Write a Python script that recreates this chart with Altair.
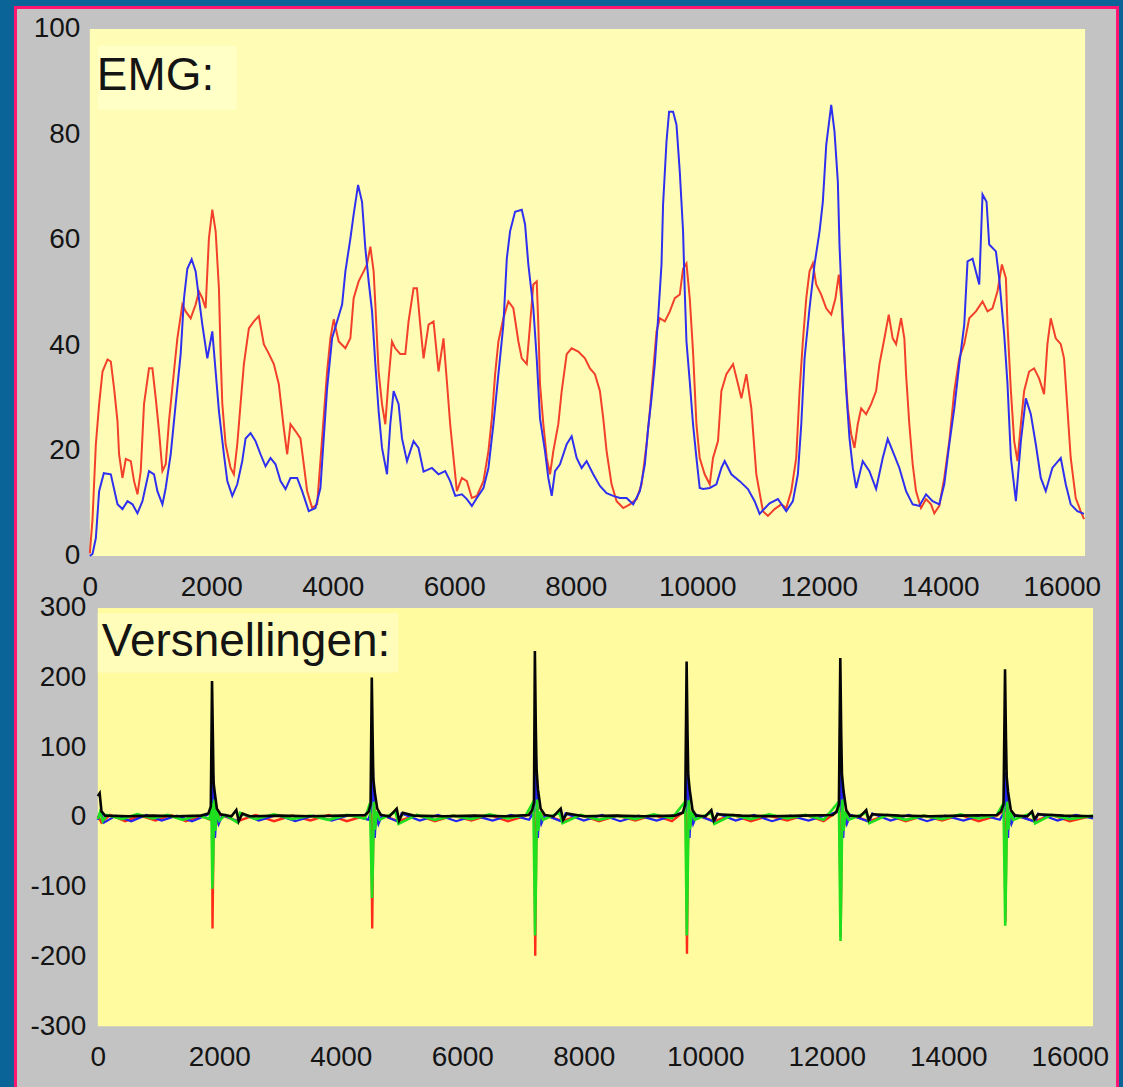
import altair as alt
import pandas as pd

# ---------------------------------------------------------------- data
# EMG envelopes: (sample index, amplitude)
emg_blue = [
    (0, 0), (44, 0.4), (99, 3.4), (153, 12.3), (230, 15.7), (345, 15.5), (455, 9.8), (537, 8.9),
    (620, 10.4), (702, 9.8), (784, 8.1), (866, 10.4), (974, 16.1), (1057, 15.5), (1112, 12.3),
    (1195, 9.8), (1249, 12.9), (1331, 19.3), (1413, 28.8), (1495, 38.3), (1550, 48.9), (1605, 54.5),
    (1676, 56.3), (1742, 54), (1796, 48.9), (1852, 43.9), (1934, 37.5), (2016, 42.6), (2071, 35),
    (2125, 27.5), (2207, 19.3), (2263, 14.2), (2345, 11.4), (2427, 13.6), (2509, 18), (2564, 22.3),
    (2646, 23.3), (2728, 21.8), (2810, 19.3), (2892, 17), (2974, 18.6), (3057, 17.4), (3139, 14.2),
    (3221, 12.7), (3303, 14.8), (3413, 14.8), (3495, 12.3), (3604, 8.5), (3714, 9.1), (3796, 12.9),
    (3850, 22.3), (3906, 31.8), (3988, 41.3), (4070, 44.5), (4153, 47.7), (4207, 54), (4289, 60.2),
    (4343, 64.8), (4416, 70.4), (4481, 67.2), (4536, 58.3), (4590, 52.1), (4646, 46.4), (4700, 36.4),
    (4754, 27.5), (4810, 20.5), (4892, 15.5), (4946, 25), (5001, 31.3), (5083, 28.8), (5139, 22.3),
    (5221, 18), (5329, 21.8), (5411, 20.5), (5494, 16), (5632, 16.7), (5740, 15.5), (5850, 16.1),
    (5932, 14.2), (6015, 11.4), (6125, 11.7), (6207, 10.8), (6289, 9.5), (6371, 11), (6480, 12.9),
    (6562, 16.7), (6644, 25), (6726, 34.5), (6808, 43.9), (6864, 56.4), (6918, 61.6), (7000, 65.3),
    (7111, 65.7), (7165, 62.9), (7219, 55.3), (7301, 47), (7357, 37.5), (7411, 26.1), (7493, 19.9),
    (7548, 14.8), (7604, 11.4), (7658, 16.1), (7740, 17.4), (7850, 21.2), (7932, 22.7), (8014, 18.6),
    (8096, 16.7), (8178, 18), (8287, 15.5), (8397, 13.3), (8507, 11.9), (8616, 11.4), (8726, 11),
    (8836, 11), (8945, 9.8), (9055, 12.3), (9137, 17.4), (9191, 24.2), (9247, 29.9), (9301, 36.4),
    (9355, 45.1), (9411, 55.3), (9437, 66.7), (9493, 78.6), (9536, 84.3), (9602, 84.3), (9658, 81.8),
    (9712, 72.9), (9766, 61.6), (9794, 50.2), (9822, 40.7), (9876, 33.1), (9930, 25), (9986, 18.6),
    (10040, 12.9), (10095, 12.7), (10205, 12.9), (10315, 13.6), (10397, 16.7), (10451, 18),
    (10561, 15.5), (10698, 14.2), (10834, 12.7), (10944, 10.4), (11026, 8), (11190, 10),
    (11327, 10.8), (11465, 8.5), (11574, 10.4), (11656, 15.5), (11712, 25), (11766, 37.5),
    (11848, 47), (11930, 55.3), (12013, 61.6), (12067, 67.2), (12123, 78), (12205, 85.6),
    (12259, 80.5), (12314, 71), (12341, 59.1), (12396, 43.9), (12452, 31.3), (12506, 22.3),
    (12560, 16.7), (12616, 12.9), (12724, 18), (12834, 16.1), (12944, 12.7), (13053, 18.6),
    (13135, 22.2), (13217, 19.9), (13327, 16.7), (13437, 12.3), (13546, 9.8), (13656, 9.5),
    (13766, 11.7), (13874, 10.4), (13984, 9.8), (14066, 13.6), (14149, 21.2), (14231, 28),
    (14313, 36.4), (14395, 43.9), (14449, 55.9), (14532, 56.4), (14642, 51.5), (14696, 68.6),
    (14762, 67.2), (14806, 59.1), (14916, 57.8), (14970, 52.7), (15053, 42), (15107, 32.6),
    (15163, 18.6), (15245, 10.4), (15327, 21.8), (15409, 29.9), (15491, 26.9), (15573, 21.2),
    (15655, 14.8), (15737, 12.3), (15846, 16.7), (15984, 18.6), (16066, 13.6), (16148, 9.8),
    (16257, 8.5), (16367, 8),
]

emg_red = [
    (0, 0.5), (44, 7), (99, 21.2), (153, 28.8), (209, 35), (291, 37.3), (345, 36.9), (399, 31.8),
    (455, 25.6), (481, 19.3), (537, 14.8), (592, 18.4), (674, 18), (728, 14.2), (784, 11.7),
    (838, 16.1), (892, 28.8), (974, 35.6), (1030, 35.6), (1085, 29.9), (1139, 23.7), (1195, 16.1),
    (1249, 17.4), (1303, 25.6), (1385, 35), (1441, 41.3), (1523, 47.7), (1578, 46.4), (1660, 45.1),
    (1742, 47.7), (1796, 50.2), (1852, 48.9), (1906, 47), (1960, 60.2), (2016, 65.7), (2071, 61.6),
    (2125, 50.8), (2153, 38.3), (2181, 28.8), (2235, 21.2), (2317, 16.7), (2371, 15.5), (2427, 21.2),
    (2481, 28.8), (2536, 36.4), (2618, 43.2), (2700, 44.5), (2782, 45.5), (2864, 40.2), (2946, 38.4),
    (3029, 36.4), (3111, 32.6), (3193, 24.2), (3249, 19.3), (3303, 25), (3385, 23.7), (3467, 22.3),
    (3522, 17.4), (3577, 12.3), (3660, 9.1), (3742, 9.8), (3824, 22.3), (3906, 35), (3960, 41.3),
    (4015, 44.9), (4097, 40.7), (4207, 39.4), (4289, 41.3), (4343, 48.9), (4425, 52.1), (4508, 54),
    (4563, 55.3), (4618, 58.7), (4672, 54), (4700, 47.7), (4754, 35), (4810, 28.8), (4864, 25),
    (4919, 33.7), (4974, 40.7), (5028, 39.4), (5111, 38.3), (5193, 38.3), (5247, 44.5), (5329, 50.8),
    (5385, 50.8), (5439, 43.9), (5494, 37.5), (5576, 43.9), (5658, 44.5), (5740, 35), (5822, 41.3),
    (5878, 33.1), (5932, 25), (5987, 18.6), (6042, 12.3), (6125, 14.8), (6207, 14.2), (6289, 11),
    (6371, 11.4), (6480, 14.2), (6562, 19.9), (6618, 26.1), (6672, 34.5), (6726, 40.7), (6808, 45.1),
    (6890, 48.3), (6972, 47), (7055, 40.7), (7111, 37.5), (7193, 36.4), (7247, 43.9), (7301, 51.5),
    (7357, 52.1), (7383, 43.9), (7411, 32.6), (7466, 25), (7522, 18.6), (7576, 15.5), (7630, 19.9),
    (7712, 25), (7768, 31.3), (7850, 38.3), (7932, 39.4), (8041, 38.8), (8151, 37.5), (8233, 35.6),
    (8315, 34.5), (8397, 31.3), (8452, 26.1), (8507, 19.9), (8589, 13.6), (8672, 10.4), (8781, 9.1),
    (8891, 9.8), (9001, 10.8), (9083, 13.6), (9165, 21.2), (9219, 27.5), (9273, 35), (9329, 42.6),
    (9384, 45.1), (9466, 44.5), (9548, 46.4), (9630, 48.9), (9712, 49.6), (9766, 54.5), (9822, 55.5),
    (9876, 48.9), (9930, 38.8), (9986, 25), (10040, 18.6), (10122, 15.5), (10205, 13.6),
    (10259, 18.6), (10341, 21.8), (10397, 31.3), (10479, 34.5), (10589, 36.4), (10671, 32.6),
    (10726, 29.9), (10808, 34.5), (10890, 28), (10972, 15.5), (11081, 8.5), (11163, 7.6),
    (11273, 8.9), (11383, 9.8), (11465, 9.1), (11547, 12.3), (11629, 18.6), (11684, 31.3),
    (11738, 40.7), (11794, 48.9), (11848, 54), (11903, 55.5), (11958, 51.5), (12040, 49.6),
    (12123, 47), (12205, 45.8), (12275, 48.9), (12330, 53.4), (12369, 48.9), (12423, 37.5),
    (12478, 28), (12534, 23.1), (12588, 20.5), (12642, 25), (12698, 28), (12780, 26.9),
    (12862, 28.8), (12944, 31.3), (12999, 36.4), (13081, 41.3), (13152, 45.8), (13217, 41.3),
    (13273, 40.2), (13355, 45.1), (13409, 41.3), (13437, 34.5), (13491, 25), (13546, 17.4),
    (13601, 12.3), (13683, 9.1), (13766, 10.8), (13848, 9.8), (13902, 8.1), (13984, 9.5),
    (14066, 14.8), (14149, 21.8), (14231, 31.3), (14313, 37.5), (14395, 40.2), (14477, 45.1),
    (14587, 46.4), (14696, 48.3), (14778, 46.4), (14860, 47), (14942, 50.2), (15015, 55.3),
    (15081, 52.7), (15107, 43.9), (15163, 31.3), (15217, 21.8), (15272, 18), (15327, 25),
    (15381, 31.3), (15463, 35), (15545, 35.6), (15627, 33.7), (15709, 30.7), (15764, 40.2),
    (15819, 45.1), (15901, 41.3), (15984, 40.2), (16038, 37.5), (16093, 28), (16148, 18.6),
    (16230, 11), (16312, 8.5), (16367, 7),
]

# Accelerometer channels: (sample index, value)
acc_red = [
    (0, 2), (60, -8), (200, 3), (450, -6), (700, 2), (950, -5), (1200, 3), (1450, -6), (1700, 2),
    (1850, -4), (1880, 10), (1888, -160), (1903, -40), (1920, 15), (1950, -12), (2000, 4),
    (2300, -6), (2600, 3), (2900, -6), (3200, 2), (3500, -5), (3800, 3), (4100, -6), (4400, 2),
    (4500, 10), (4517, -160), (4532, -40), (4550, 15), (4580, -12), (4630, 4), (4950, -6),
    (5250, 3), (5550, -6), (5850, 2), (6150, -5), (6450, 3), (6750, -6), (7050, 2), (7185, 10),
    (7201, -199), (7216, -45), (7235, 15), (7265, -12), (7320, 4), (7650, -6), (7950, 3),
    (8250, -6), (8550, 2), (8850, -5), (9150, 3), (9450, -6), (9680, 10), (9699, -196),
    (9714, -45), (9732, 15), (9760, -12), (9810, 4), (10150, -6), (10450, 3), (10750, -6),
    (11050, 2), (11350, -5), (11650, 3), (11950, -6), (12210, 10), (12229, -172), (12244, -45),
    (12262, 15), (12290, -12), (12340, 4), (12700, -6), (13000, 3), (13300, -6), (13600, 2),
    (13900, -5), (14200, 3), (14500, -6), (14800, 2), (14925, 10), (14941, -150), (14956, -40),
    (14975, 15), (15000, -12), (15050, 4), (15430, -6), (15700, 3), (16000, -6), (16384, 2),
]

acc_blue = [
    (0, -4), (50, 10), (100, -8), (300, 2), (550, -6), (800, 3), (1050, -5), (1300, 2), (1550, -6),
    (1800, 3), (1870, 8), (1890, 40), (1900, 60), (1915, 20), (1930, -30), (1950, 5), (1990, -10),
    (2050, 3), (2300, -6), (2350, 5), (2650, -5), (2950, 3), (3250, -6), (3550, 2), (3850, -5),
    (4150, 3), (4450, -4), (4500, 8), (4520, 45), (4530, 70), (4545, 20), (4560, -30), (4580, 5),
    (4620, -10), (4680, 3), (4950, -7), (5000, 5), (5300, -5), (5600, 3), (5900, -6), (6200, 2),
    (6500, -5), (6800, 3), (7100, -4), (7185, 8), (7205, 45), (7215, 85), (7230, 25), (7245, -30),
    (7265, 5), (7300, -10), (7360, 3), (7650, -7), (7700, 5), (8000, -5), (8300, 3), (8600, -6),
    (8900, 2), (9200, -5), (9500, 3), (9680, 8), (9700, 45), (9712, 75), (9727, 20), (9742, -30),
    (9760, 5), (9800, -10), (9860, 3), (10150, -7), (10200, 5), (10500, -5), (10800, 3),
    (11100, -6), (11400, 2), (11700, -5), (12000, 3), (12210, 8), (12230, 45), (12242, 80),
    (12257, 20), (12272, -30), (12290, 5), (12330, -10), (12390, 3), (12700, -7), (12750, 5),
    (13050, -5), (13350, 3), (13650, -6), (13950, 2), (14250, -5), (14550, 3), (14850, -4),
    (14925, 8), (14945, 40), (14955, 65), (14970, 20), (14985, -30), (15000, 5), (15040, -10),
    (15100, 3), (15430, -7), (15480, 5), (15800, -5), (16100, 3), (16384, -2),
]

acc_green = [
    (0, -3), (40, 8), (80, -6), (150, 3), (400, -3), (650, 4), (900, -2), (1150, 3), (1400, -4),
    (1650, 2), (1840, -3), (1870, 20), (1885, -103), (1900, -60), (1915, 25), (1935, -20),
    (1960, 10), (2000, -5), (2100, 3), (2300, -8), (2340, 6), (2600, -3), (2900, 4), (3200, -3),
    (3500, 2), (3800, -4), (4100, 3), (4400, -2), (4480, 20), (4514, -116), (4530, -60),
    (4545, 22), (4565, -18), (4590, 8), (4640, -4), (4900, 7), (4950, -10), (5250, 3), (5550, -4),
    (5850, 2), (6150, -3), (6450, 4), (6750, -2), (7050, 3), (7170, 22), (7198, -170), (7215, -80),
    (7230, 25), (7250, -20), (7280, 8), (7330, -4), (7600, 6), (7650, -9), (7950, 3), (8250, -4),
    (8550, 2), (8850, -3), (9150, 4), (9450, -2), (9670, 22), (9696, -170), (9712, -80),
    (9728, 24), (9748, -18), (9780, 8), (9830, -4), (10100, 6), (10150, -10), (10450, 3),
    (10750, -3), (11050, 4), (11350, -2), (11650, 3), (11950, -4), (12200, 22), (12226, -178),
    (12242, -85), (12258, 25), (12278, -20), (12310, 8), (12360, -4), (12650, 6), (12700, -9),
    (13000, 3), (13300, -4), (13600, 2), (13900, -3), (14200, 4), (14500, -2), (14800, 3),
    (14910, 20), (14938, -156), (14954, -75), (14970, 22), (14990, -18), (15020, 8), (15070, -4),
    (15380, 6), (15430, -9), (15700, 3), (16000, -3), (16384, 2),
]

acc_black = [
    (0, 30), (30, 34), (60, 8), (120, 2), (500, 1), (900, 2), (1300, 1), (1700, 2), (1820, 5),
    (1860, 15), (1880, 195), (1895, 110), (1905, 50), (1925, 35), (1960, 12), (2020, 4), (2200, 1),
    (2280, 10), (2320, -6), (2380, 5), (2500, 1), (3000, 2), (3500, 1), (4000, 2), (4400, 3),
    (4460, 8), (4490, 18), (4510, 200), (4525, 110), (4535, 55), (4560, 35), (4600, 12), (4660, 3),
    (4800, 1), (4920, 12), (4960, -5), (5020, 6), (5200, 2), (5700, 1), (6200, 2), (6700, 1),
    (7100, 3), (7150, 10), (7180, 20), (7195, 238), (7210, 130), (7222, 70), (7245, 40),
    (7290, 12), (7360, 3), (7500, 1), (7620, 12), (7660, -4), (7720, 5), (8000, 1), (8500, 2),
    (9000, 1), (9500, 2), (9630, 6), (9670, 18), (9693, 223), (9708, 120), (9720, 60), (9745, 38),
    (9790, 10), (9850, 2), (10000, 1), (10100, 10), (10140, -5), (10200, 4), (10600, 2),
    (11100, 1), (11600, 2), (12100, 3), (12160, 8), (12200, 18), (12223, 228), (12238, 120),
    (12250, 62), (12275, 38), (12320, 10), (12380, 2), (12550, 1), (12650, 10), (12690, -4),
    (12750, 4), (13200, 2), (13700, 1), (14200, 2), (14800, 3), (14870, 8), (14910, 18),
    (14935, 212), (14950, 115), (14962, 58), (14985, 36), (15030, 10), (15100, 2), (15300, 1),
    (15380, 8), (15420, -3), (15480, 4), (15900, 2), (16384, 1),
]

x_ticks = [0, 2000, 4000, 6000, 8000, 10000, 12000, 14000, 16000]
emg_ticks = [0, 20, 40, 60, 80, 100]
acc_ticks = [-300, -200, -100, 0, 100, 200, 300]

# ---------------------------------------------------------------- styling
FONT = "Liberation Sans"
TEXT = "#141414"
EDGE_BLUE = "#0B6497"
EDGE_PINK = "#FF1670"
PANEL_GRAY = "#C3C3C3"
EMG_FILL = "#FFFDB5"
ACC_FILL = "#FFFB9E"
X_MAX = 16384

PAGE_W, PAGE_H = 1123, 1087
TOP_X0, TOP_Y0 = 89, 27          # origin of the first panel on the page
EMG_W, EMG_H = 997, 528
ACC_W, ACC_H, ACC_SHIFT = 1005, 419, 8
GAP = 52

one = alt.Data(values=[{}])


def frame(data):
    return pd.DataFrame(data, columns=["x", "y"])


def axis(values, pad):
    return alt.Axis(values=values, title=None, ticks=False, domain=False, grid=False,
                    labelPadding=pad, labelFlush=False, labelOverlap=False, zindex=1,
                    labelFont=FONT, labelFontSize=28, labelColor=TEXT,
                    labelExpr="'' + datum.value")


def rect(color, x0, x1, y0, y1):
    return alt.Chart(one).mark_rect(color=color).encode(
        x=alt.value(x0), x2=alt.value(x1), y=alt.value(y0), y2=alt.value(y1))


def caption(text, x, y):
    return alt.Chart(one).mark_text(
        text=text, font=FONT, fontSize=46, color=TEXT, align="left", baseline="alphabetic"
    ).encode(x=alt.value(x), y=alt.value(y))


# ---------------------------------------------------------------- EMG panel
emg_xscale = alt.Scale(domain=[0, X_MAX], nice=False, zero=False)
emg_yscale = alt.Scale(domain=[0, 100], nice=False)
emg_xaxis = axis(x_ticks, 18)
emg_yaxis = axis(emg_ticks, 10)
emg_x = alt.X("x:Q", scale=emg_xscale, axis=emg_xaxis)
emg_y = alt.Y("y:Q", scale=emg_yscale, axis=emg_yaxis)

# window frame: blue edge, pink rule, grey panel (page coordinates shifted to this panel)
edge = rect(EDGE_BLUE, -TOP_X0, PAGE_W - TOP_X0, -TOP_Y0, PAGE_H - TOP_Y0)
rule = rect(EDGE_PINK, 13 - TOP_X0, 1120 - TOP_X0, 4 - TOP_Y0, PAGE_H - TOP_Y0)
panel = rect(PANEL_GRAY, 16 - TOP_X0, 1117 - TOP_X0, 7 - TOP_Y0, PAGE_H - TOP_Y0)

emg_bg = alt.Chart(one).mark_rect(color=EMG_FILL).encode(
    x=alt.XDatum(0, scale=emg_xscale, axis=emg_xaxis), x2=alt.X2Datum(X_MAX),
    y=alt.YDatum(0, scale=emg_yscale, axis=emg_yaxis), y2=alt.Y2Datum(100))

emg_red_line = alt.Chart(frame(emg_red)).mark_line(color="#F2402A", strokeWidth=2).encode(x=emg_x, y=emg_y)
emg_blue_line = alt.Chart(frame(emg_blue)).mark_line(color="#2F2FF0", strokeWidth=2).encode(x=emg_x, y=emg_y)

emg = alt.layer(
    edge, rule, panel, emg_bg,
    rect("#FFFFC6", 8, 147, 17, 81),
    caption("EMG:", 7, 61),
    emg_red_line, emg_blue_line,
).properties(width=EMG_W, height=EMG_H)

# ---------------------------------------------------------------- acceleration panel
acc_xscale = alt.Scale(domain=[0, X_MAX], range=[ACC_SHIFT, ACC_W], nice=False, zero=False)
acc_yscale = alt.Scale(domain=[-300, 300], nice=False)
acc_xaxis = axis(x_ticks, 17)
acc_yaxis = axis(acc_ticks, 4)
acc_x = alt.X("x:Q", scale=acc_xscale, axis=acc_xaxis)
acc_y = alt.Y("y:Q", scale=acc_yscale, axis=acc_yaxis)

acc_bg = alt.Chart(one).mark_rect(color=ACC_FILL).encode(
    x=alt.XDatum(0, scale=acc_xscale, axis=acc_xaxis), x2=alt.X2Datum(X_MAX),
    y=alt.YDatum(-300, scale=acc_yscale, axis=acc_yaxis), y2=alt.Y2Datum(300))


def acc_line(data, color, width):
    return alt.Chart(frame(data)).mark_line(color=color, strokeWidth=width).encode(x=acc_x, y=acc_y)


acc = alt.layer(
    acc_bg,
    rect("#FFFDB9", ACC_SHIFT, 309, 5, 65),
    caption("Versnellingen:", 12, 48),
    acc_line(acc_red, "#FF2A1A", 2.4),
    acc_line(acc_blue, "#2424F0", 2.2),
    acc_line(acc_green, "#1EE01E", 2.6),
    acc_line(acc_black, "#050505", 2.6),
).properties(width=ACC_W, height=ACC_H)

chart = alt.vconcat(emg, acc, spacing=GAP, bounds="flush").properties(
    padding=0, background=EDGE_BLUE
).configure_view(stroke="transparent")

chart.save("out.html", embed_options={"renderer": "svg", "actions": False})
